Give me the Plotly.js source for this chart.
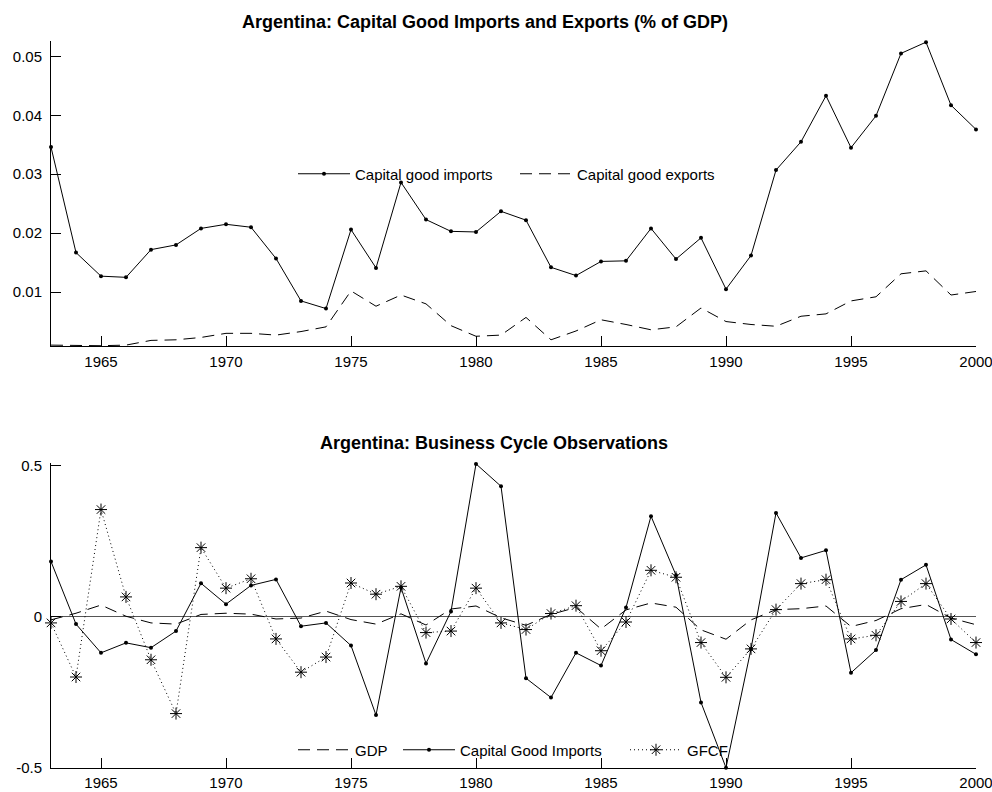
<!DOCTYPE html>
<html>
<head>
<meta charset="utf-8">
<script src="https://cdn.plot.ly/plotly-3.0.1.min.js"></script>
<style>
html,body{margin:0;padding:0;background:#fff;}
#chart{width:992px;height:792px;}
</style>
</head>
<body>
<div id="chart"></div>
<script>
// ---- data ----
var years = [1963,1964,1965,1966,1967,1968,1969,1970,1971,1972,1973,1974,1975,1976,1977,1978,1979,1980,1981,1982,1983,1984,1985,1986,1987,1988,1989,1990,1991,1992,1993,1994,1995,1996,1997,1998,1999,2000];

var capImportsGDP = [0.0346,0.0167,0.0127,0.0125,0.0172,0.0180,0.0208,0.0215,0.0210,0.0157,0.0085,0.0072,0.0206,0.0141,0.0286,0.0223,0.0203,0.0202,0.0237,0.0222,0.0142,0.0128,0.0152,0.0153,0.0208,0.0156,0.0192,0.0105,0.0162,0.0307,0.0355,0.0433,0.0345,0.0399,0.0505,0.0524,0.0417,0.0376];

var capExportsGDP = [0.0010,0.0009,0.0009,0.0010,0.0018,0.0019,0.0023,0.0030,0.0030,0.0027,0.0033,0.0041,0.0102,0.0076,0.0095,0.0080,0.0043,0.0025,0.0027,0.0057,0.0019,0.0034,0.0053,0.0045,0.0036,0.0041,0.0073,0.0050,0.0045,0.0042,0.0059,0.0063,0.0085,0.0092,0.0131,0.0136,0.0095,0.0101];

var gdpCycle = [-0.010,0.012,0.039,0.002,-0.020,-0.024,0.008,0.012,0.009,-0.007,-0.004,0.019,-0.009,-0.024,0.010,-0.027,0.026,0.036,-0.003,-0.028,0.008,0.031,-0.040,0.023,0.046,0.032,-0.043,-0.074,-0.010,0.024,0.027,0.036,-0.032,-0.012,0.027,0.041,-0.004,-0.026];

var cgiCycle = [0.183,-0.024,-0.119,-0.086,-0.102,-0.047,0.111,0.042,0.104,0.124,-0.031,-0.020,-0.095,-0.325,0.097,-0.154,0.018,0.506,0.432,-0.203,-0.267,-0.119,-0.161,0.031,0.333,0.138,-0.283,-0.499,-0.106,0.344,0.195,0.220,-0.185,-0.110,0.123,0.172,-0.075,-0.124];

var gfcfCycle = [-0.020,-0.199,0.355,0.066,-0.142,-0.320,0.229,0.095,0.126,-0.073,-0.183,-0.133,0.112,0.075,0.101,-0.052,-0.047,0.095,-0.020,-0.042,0.011,0.037,-0.112,-0.017,0.154,0.131,-0.085,-0.200,-0.106,0.024,0.110,0.123,-0.073,-0.061,0.051,0.110,-0.007,-0.085];

var xTickVals = [1965,1970,1975,1980,1985,1990,1995,2000];
var xTickText = ['1965','1970','1975','1980','1985','1990','1995','2000'];
var yTopVals = [0.01,0.02,0.03,0.04,0.05];
var yTopText = ['0.01','0.02','0.03','0.04','0.05'];
var yBotVals = [-0.5,0,0.5];
var yBotText = ['-0.5','0','0.5'];

var title1 = 'Argentina: Capital Good Imports and Exports (% of GDP)';
var title2 = 'Argentina: Business Cycle Observations';

// ---- geometry helpers (pixel -> paper) ----
var ML = 51, MR = 16, MT = 41, MB = 24, W = 992, H = 792;
var PW = W - ML - MR, PH = H - MT - MB;
function px(x){ return (x - ML) / PW; }
function py(y){ return (H - MB - y) / PH; }

var FONT = 'Liberation Sans, Arial, sans-serif';

var traces = [
  {x: years, y: capImportsGDP, name: 'Capital good imports', type: 'scatter', mode: 'lines+markers',
   xaxis: 'x', yaxis: 'y', line: {color: '#000', width: 1}, marker: {color: '#000', size: 4},
   cliponaxis: false, legend: 'legend'},
  {x: years, y: capExportsGDP, name: 'Capital good exports', type: 'scatter', mode: 'lines',
   xaxis: 'x', yaxis: 'y', line: {color: '#000', width: 1, dash: '12px,7px'}, legend: 'legend2'},
  {x: years, y: gdpCycle, name: 'GDP', type: 'scatter', mode: 'lines',
   xaxis: 'x2', yaxis: 'y2', line: {color: '#000', width: 1, dash: '12px,7px'}, legend: 'legend3'},
  {x: years, y: cgiCycle, name: 'Capital Good Imports', type: 'scatter', mode: 'lines+markers',
   xaxis: 'x2', yaxis: 'y2', line: {color: '#000', width: 1}, marker: {color: '#000', size: 4},
   cliponaxis: false, legend: 'legend4'},
  {x: years, y: gfcfCycle, name: 'GFCF', type: 'scatter', mode: 'lines+markers',
   xaxis: 'x2', yaxis: 'y2', line: {color: '#000', width: 1, dash: '1px,3px'},
   marker: {symbol: 'asterisk-open', size: 10, color: '#000', line: {color: '#000', width: 1}},
   cliponaxis: false, legend: 'legend5'}
];

function legendAt(xpx, ypx){
  return {x: px(xpx), y: py(ypx), xanchor: 'left', yanchor: 'middle', orientation: 'h',
    bgcolor: 'rgba(0,0,0,0)', borderwidth: 0, itemwidth: 52,
    font: {family: FONT, size: 15, color: '#000'}};
}

var axisCommon = {
  showline: true, linecolor: '#000', linewidth: 1, ticks: 'inside', ticklen: 10,
  tickcolor: '#000', tickwidth: 1, showgrid: false, zeroline: false,
  tickfont: {family: FONT, size: 15, color: '#000'}, mirror: false
};

var layout = {
  width: W, height: H,
  margin: {l: ML, r: MR, t: MT, b: MB, pad: 0},
  paper_bgcolor: '#fff', plot_bgcolor: '#fff',
  font: {family: FONT, size: 15, color: '#000'},
  xaxis: Object.assign({}, axisCommon, {anchor: 'y', domain: [0,1], range: [1963,2000],
    tickmode: 'array', tickvals: xTickVals, ticktext: xTickText, ticklabelstandoff: 2,
    ticklabeloverflow: 'allow'}),
  yaxis: Object.assign({}, axisCommon, {anchor: 'x', domain: [py(346), 1], range: [0.00085, 0.0526],
    tickmode: 'array', tickvals: yTopVals, ticktext: yTopText, ticklabelstandoff: 5}),
  xaxis2: Object.assign({}, axisCommon, {anchor: 'y2', domain: [0,1], range: [1963,2000],
    tickmode: 'array', tickvals: xTickVals, ticktext: xTickText, ticklabelstandoff: 1,
    ticklabeloverflow: 'allow'}),
  yaxis2: Object.assign({}, axisCommon, {anchor: 'x2', domain: [0, py(462.7)], range: [-0.5, 0.51],
    tickmode: 'array', tickvals: yBotVals, ticktext: yBotText, ticklabelstandoff: 5,
    zeroline: true, zerolinecolor: '#555', zerolinewidth: 1}),
  showlegend: true,
  legend: legendAt(293, 174),
  legend2: legendAt(515, 174),
  legend3: legendAt(293, 750),
  legend4: legendAt(398, 750),
  legend5: legendAt(625, 750),
  annotations: [
    {text: '<b>' + title1 + '</b>', xref: 'paper', yref: 'paper', x: px(485), y: py(22),
     xanchor: 'center', yanchor: 'middle', showarrow: false, font: {family: FONT, size: 18, color: '#000'}},
    {text: '<b>' + title2 + '</b>', xref: 'paper', yref: 'paper', x: px(494), y: py(443),
     xanchor: 'center', yanchor: 'middle', showarrow: false, font: {family: FONT, size: 18, color: '#000'}}
  ]
};

Plotly.newPlot('chart', traces, layout, {staticPlot: true, displayModeBar: false});
</script>
</body>
</html>
